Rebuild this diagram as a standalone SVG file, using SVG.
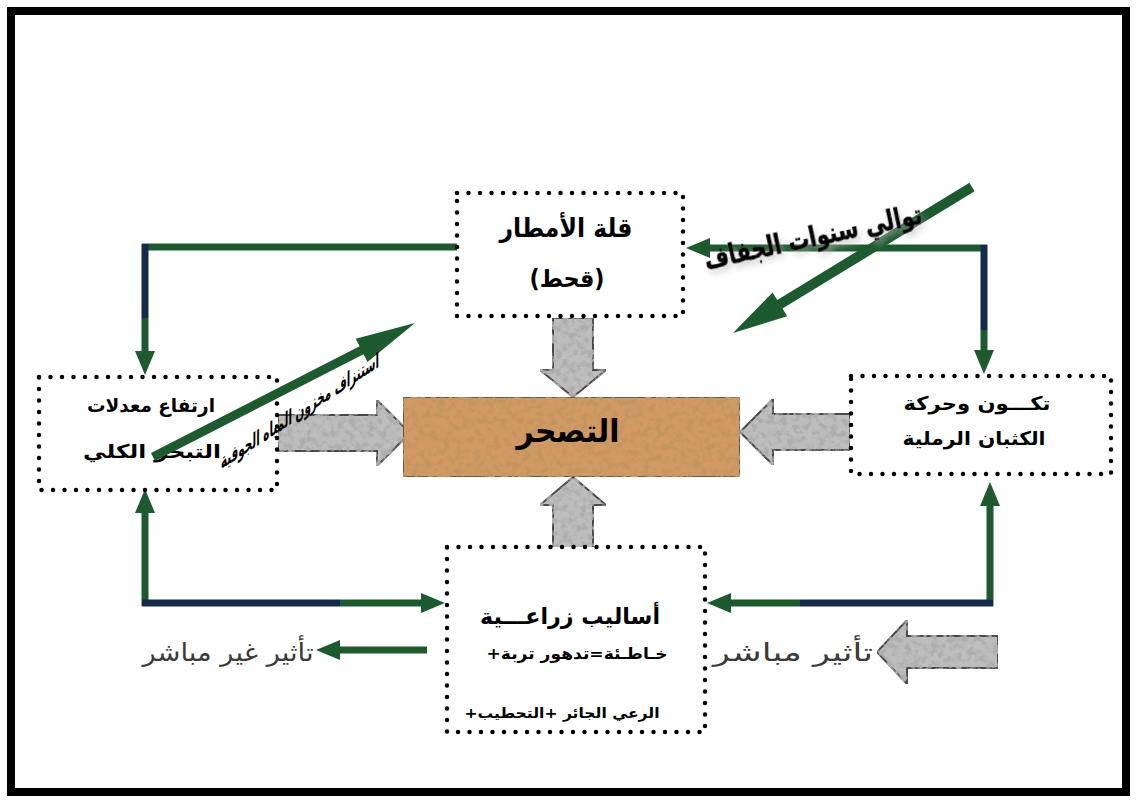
<svg xmlns="http://www.w3.org/2000/svg" width="1136" height="803" viewBox="0 0 1136 803">
<defs>
<style>
.frame{fill:#fff;stroke:#000;stroke-width:8}
.dot{fill:#fff;stroke:#000;stroke-width:4.5;stroke-dasharray:0 11.5;stroke-linecap:round}
.g{fill:none;stroke:#1e5a2f;stroke-width:7}
.n{fill:none;stroke:#162b4b;stroke-width:7}
.blk{fill:#bdbdbd;stroke:#4a4a4a;stroke-width:2;filter:url(#grayTex)}
.diag{fill:#1e5a2f}
.t{font-family:"DejaVu Sans",sans-serif;font-weight:bold;fill:#000;text-anchor:middle}
.t2{font-family:"DejaVu Sans",sans-serif;fill:#3a3a3a;text-anchor:middle}
</style>
<marker id="ah" markerUnits="userSpaceOnUse" markerWidth="24" markerHeight="20" viewBox="0 0 12 10" refX="0" refY="5" orient="auto">
<path d="M0,0 L12,5 L0,10 z" fill="#1e5a2f"/>
</marker>
<filter id="brownTex" x="0" y="0" width="100%" height="100%">
<feTurbulence type="fractalNoise" baseFrequency="0.16" numOctaves="3" seed="7" result="n"/>
<feColorMatrix in="n" type="matrix" values="0 0 0 0 0.55  0 0 0 0 0.3  0 0 0 0 0.12  4 0 0 0 -1.75" result="s"/>
<feComposite in="s" in2="SourceGraphic" operator="in" result="s2"/>
<feMerge><feMergeNode in="SourceGraphic"/><feMergeNode in="s2"/></feMerge>
</filter>
<filter id="grayTex" x="0" y="0" width="100%" height="100%">
<feTurbulence type="fractalNoise" baseFrequency="0.16" numOctaves="3" seed="7" result="n"/>
<feColorMatrix in="n" type="matrix" values="0 0 0 0 0.42  0 0 0 0 0.42  0 0 0 0 0.42  4 0 0 0 -1.75" result="s"/>
<feComposite in="s" in2="SourceGraphic" operator="in" result="s2"/>
<feMerge><feMergeNode in="SourceGraphic"/><feMergeNode in="s2"/></feMerge>
</filter>
<filter id="shadow" x="-10%" y="-30%" width="120%" height="160%">
<feGaussianBlur in="SourceAlpha" stdDeviation="3"/>
<feOffset dx="2" dy="5" result="b"/>
<feColorMatrix in="b" type="matrix" values="0 0 0 0 0.5  0 0 0 0 0.5  0 0 0 0 0.5  0 0 0 0.6 0" result="sh"/>
<feMerge><feMergeNode in="sh"/><feMergeNode in="SourceGraphic"/></feMerge>
</filter>
</defs>

<rect class="frame" x="11" y="11" width="1115" height="781"/>

<g id="connectors">
<path class="g" d="M458,247 H142"/>
<path class="n" d="M145,244 V318"/>
<path class="g" d="M145,318 V351" marker-end="url(#ah)"/>
<path class="g" d="M987,248 H710" marker-end="url(#ah)"/>
<path class="n" d="M984,245 V330"/>
<path class="g" d="M984,330 V350" marker-end="url(#ah)"/>
<path class="g" d="M145,606 V513" marker-end="url(#ah)"/>
<path class="n" d="M142,603 H340"/>
<path class="g" d="M340,603 H421" marker-end="url(#ah)"/>
<path class="g" d="M990,606 V506" marker-end="url(#ah)"/>
<path class="n" d="M993,603 H800"/>
<path class="g" d="M800,603 H731" marker-end="url(#ah)"/>
<path class="g" d="M427,650 H340" marker-end="url(#ah)"/>
<polygon class="blk" points="278,415 377,415 377,400 410,433 377,466 377,451 278,451"/>
<polygon class="blk" points="850,414 773,414 773,399 740,432 773,465 773,450 850,450"/>
<polygon class="blk" points="553,318 593,318 593,370 606,370 573,397 540,370 553,370"/>
<polygon class="blk" points="553,548 593,548 593,505 606,505 573,477 540,505 553,505"/>
<polygon class="blk" points="998,636 907,636 907,620 877,652 907,684 907,668 998,668"/>
</g>

<g id="node-rain">
<rect class="dot" x="457" y="193" width="226" height="123"/>
<text class="t" direction="rtl" x="566" y="237" font-size="26" textLength="133" lengthAdjust="spacingAndGlyphs">قلة الأمطار</text>
<text class="t" direction="rtl" x="567" y="287" font-size="24" textLength="75" lengthAdjust="spacingAndGlyphs">(قحط)</text>
</g>

<g id="node-desert">
<rect x="403" y="397" width="337" height="80" fill="#d29a64" stroke="#444" stroke-width="1.5" filter="url(#brownTex)"/>
<text class="t" direction="rtl" x="568" y="442" font-size="32" textLength="103" lengthAdjust="spacingAndGlyphs">التصحر</text>
</g>

<g id="node-evap">
<rect class="dot" x="39" y="377" width="238" height="113"/>
<text class="t" direction="rtl" x="151" y="412" font-size="19" textLength="128" lengthAdjust="spacingAndGlyphs">ارتفاع معدلات</text>
<text class="t" direction="rtl" x="152" y="458" font-size="19" textLength="138" lengthAdjust="spacingAndGlyphs">التبخر الكلي</text>
</g>

<g id="node-dunes">
<rect class="dot" x="851" y="376" width="260" height="98"/>
<text class="t" direction="rtl" x="977" y="410" font-size="19" textLength="147" lengthAdjust="spacingAndGlyphs">تكـــون وحركة</text>
<text class="t" direction="rtl" x="974" y="445" font-size="19" textLength="143" lengthAdjust="spacingAndGlyphs">الكثبان الرملية</text>
</g>

<g id="node-agri">
<rect class="dot" x="447" y="547" width="258" height="185"/>
<text class="t" direction="rtl" x="570" y="624" font-size="22" textLength="180" lengthAdjust="spacingAndGlyphs">أساليب زراعـــية</text>
<text class="t" direction="rtl" x="577" y="659" font-size="16" textLength="181" lengthAdjust="spacingAndGlyphs">خـاطـئة=تدهور تربة+</text>
<text class="t" direction="rtl" x="562" y="718" font-size="14" textLength="195" lengthAdjust="spacingAndGlyphs">الرعي الجائر +التحطيب+</text>
</g>

<g id="label-indirect">
<text class="t2" direction="rtl" x="228" y="661" font-size="25" textLength="171" lengthAdjust="spacingAndGlyphs">تأثير غير مباشر</text>
</g>

<g id="label-direct">
<text class="t2" direction="rtl" x="793" y="661" font-size="25" textLength="160" lengthAdjust="spacingAndGlyphs">تأثير مباشر</text>
</g>

<g id="drought">
<polygon class="diag" points="974.6,191.3 782.5,308.6 787.2,316.3 733,333 772.6,292.4 777.3,300 969.4,182.7"/>
<text class="t" direction="rtl" font-size="27" stroke="#000" stroke-width="0.8" textLength="222" lengthAdjust="spacingAndGlyphs" filter="url(#shadow)" transform="translate(815,246) rotate(-12)" x="0" y="0">توالي سنوات الجفاف</text>
</g>

<g id="groundwater">
<polygon class="diag" points="155,461 363.6,354.3 367.5,361.9 415,323 355.7,338.7 359.6,346.3 151,453"/>
<text class="t" direction="rtl" font-size="21" textLength="158" lengthAdjust="spacingAndGlyphs" transform="translate(300,418) skewY(-33)" x="0" y="0">استنزاف مخزون المياه الجوفية</text>
</g>
</svg>
